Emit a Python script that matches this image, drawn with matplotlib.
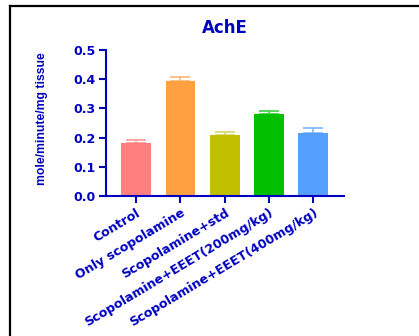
import matplotlib
matplotlib.use("Agg")
import matplotlib.pyplot as plt
from matplotlib.lines import Line2D
from matplotlib import font_manager

groups = ["Control", "Only scopolamine", "Scopolamine+std",
          "Scopolamine+EEET(200mg/kg)", "Scopolamine+EEET(400mg/kg)"]
means = [0.180, 0.394, 0.209, 0.281, 0.217]
errors = [0.011, 0.015, 0.011, 0.009, 0.015]
colors = ["#FF7F7F", "#FFA040", "#C0C000", "#00C000", "#55A0FF"]
err_colors = ["#FF9A9A", "#FFB870", "#D6D66A", "#40D040", "#80B8FF"]
yticks = [0.0, 0.1, 0.2, 0.3, 0.4, 0.5]

navy = "#0000C0"
plt.rcParams["font.family"] = ["DejaVu Sans"]

label_font = font_manager.FontProperties(family="Liberation Sans", weight="bold", size=8.8)

fig = plt.figure(figsize=(4.19, 3.36), dpi=100)
ax = fig.add_axes([0.253, 0.417, 0.568, 0.434])

x = list(range(len(groups)))
ax.bar(x, means, width=0.675, color=colors, zorder=2)
for i in x:
    ax.errorbar(i, means[i], yerr=[[0], [errors[i]]], fmt="none",
                ecolor=err_colors[i], elinewidth=1.2, capsize=7, capthick=1.2, zorder=1)

ax.set_xlim(-0.68, 4.69)
ax.set_ylim(0, 0.5)
ax.set_yticks(yticks)
ax.set_yticklabels(["%.1f" % v for v in yticks], fontsize=9)
ax.set_xticks(x)
ax.set_xticklabels(groups, rotation=31, ha="right", rotation_mode="anchor", fontsize=9.1)

for s in ["top", "right"]:
    ax.spines[s].set_visible(False)
for s in ["left", "bottom"]:
    ax.spines[s].set_color(navy)
    ax.spines[s].set_linewidth(1.5)
ax.tick_params(colors=navy, width=1.5, length=5, pad=2.5)
for lab in ax.get_xticklabels() + ax.get_yticklabels():
    lab.set_fontweight("bold")
    lab.set_color(navy)

ax.set_title("AchE", color=navy, fontweight="bold", fontsize=12, pad=12)
ax.set_ylabel("mole/minute/mg tissue", color=navy, fontproperties=label_font)
ax.yaxis.set_label_coords(-0.245, 0.53)

# frame lines along the top and left edge
fig.add_artist(Line2D([0.0227, 1.0], [0.982, 0.982], color="black", lw=1.6))
fig.add_artist(Line2D([0.0227, 0.0227], [0.0, 0.982], color="black", lw=1.6))

fig.savefig("out.png", dpi=100)
